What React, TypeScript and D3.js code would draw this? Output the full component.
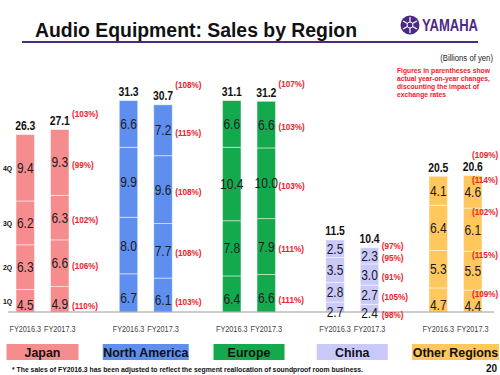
import React from "react";
import * as d3 from "d3";

// quarterly sales, billions of yen, [FY2016.3, FY2017.3] x [1Q..4Q]
const regions = ["Japan", "North America", "Europe", "China", "Other Regions"];
const years = ["FY2016.3", "FY2017.3"];
const quarters = ["1Q", "2Q", "3Q", "4Q"];

const japanSales = [[4.5, 6.3, 6.2, 9.4], [4.9, 6.6, 6.3, 9.3]];
const northAmericaSales = [[6.7, 8.0, 9.9, 6.6], [6.1, 7.7, 9.6, 7.2]];
const europeSales = [[6.4, 7.8, 10.4, 6.6], [6.6, 7.9, 10.0, 6.6]];
const chinaSales = [[2.7, 2.8, 3.5, 2.5], [2.4, 2.7, 3.0, 2.3]];
const otherSales = [[4.7, 5.3, 6.4, 4.1], [4.4, 5.5, 6.1, 4.6]];

const japanTotals = [26.3, 27.1];
const northAmericaTotals = [31.3, 30.7];
const europeTotals = [31.1, 31.2];
const chinaTotals = [11.5, 10.4];
const otherTotals = [20.5, 20.6];

// year-on-year change (local currency): 1Q, 2Q, 3Q, 4Q, total
const japanYoY = ["110%", "106%", "102%", "99%", "103%"];
const northAmericaYoY = ["103%", "108%", "108%", "115%", "108%"];
const europeYoY = ["111%", "111%", "103%", "103%", "107%"];
const chinaYoY = ["98%", "105%", "91%", "95%", "97%"];
const otherYoY = ["109%", "115%", "102%", "114%", "109%"];

const colors = ["#F58D8F", "#5E8FEE", "#13A94C", "#C9C9FA", "#FFC75C"];

const sales = [japanSales, northAmericaSales, europeSales, chinaSales, otherSales];
const totals = [japanTotals, northAmericaTotals, europeTotals, chinaTotals, otherTotals];
const yoy = [japanYoY, northAmericaYoY, europeYoY, chinaYoY, otherYoY];

const FONT = "'Liberation Sans', Arial, sans-serif";
const PURPLE = "#4B2A84";
const RED = "#F0202A";

const T = ({ x, y, sx = 0.86, children, ...rest }: any) => (
  <text transform={`translate(${x},${y}) scale(${sx},1)`} fontFamily={FONT} {...rest}>
    {children}
  </text>
);

export default function App() {
  const baseY = 312;
  const x = d3.scalePoint().domain(regions).range([42.5, 455.5]);
  const inner = d3.scaleBand().domain(years).range([-26.5, 26.5]).paddingInner(0.464);
  // the axis sits a little above zero in the original slide
  const yRaw = d3.scaleLinear().domain([1.3, 35]).range([baseY, 73.7]);
  const y = yRaw.copy().clamp(true);
  const fmt = d3.format(".1f");
  const bw = inner.bandwidth();

  const bars: any[] = [];
  const labels: any[] = [];

  regions.forEach((r, ri) => {
    years.forEach((yr, yi) => {
      const vals = sales[ri][yi];
      const cum = Array.from(d3.cumsum(vals));
      const x0 = (x(r) as number) + (inner(yr) as number);
      vals.forEach((v, qi) => {
        const top = y(cum[qi]);
        const bot = y(cum[qi] - v);
        const mid = (top + yRaw(cum[qi] - v)) / 2;
        bars.push(
          <rect key={`b${ri}${yi}${qi}`} x={x0} y={top} width={bw} height={bot - top}
            fill={colors[ri]} stroke="#fff" strokeOpacity={0.6} strokeWidth={0.8} />
        );
        labels.push(
          <T key={`v${ri}${yi}${qi}`} x={x0 + bw / 2} y={mid + 5} textAnchor="middle"
            fontSize={14} fill="#1b1b24">{fmt(v)}</T>
        );
        if (yi === 1) {
          const other = ri === 4;
          labels.push(
            <T key={`p${ri}${qi}`} x={other ? x0 + bw - 10 : x0 + bw + 3}
              y={other ? top + 7 : mid + 5.5} fontSize={9.5} fontWeight="bold" fill={RED}>
              ({yoy[ri][qi]})
            </T>
          );
        }
        if (ri === 0 && yi === 0) {
          labels.push(
            <T key={`q${qi}`} x={7.5} y={(top + bot) / 2 + 3} textAnchor="middle" fontSize={8}
              fontWeight="bold" fill="#111">{quarters[qi]}</T>
          );
        }
      });
      const stackTop = y(cum[cum.length - 1]);
      labels.push(
        <T key={`t${ri}${yi}`} x={x0 + bw / 2} y={stackTop - 4.5} sx={0.8} textAnchor="middle"
          fontSize={13} fontWeight="bold" fill="#111">{fmt(totals[ri][yi])}</T>
      );
      if (yi === 1) {
        const dy = [-8, -12, -10, 6, -13][ri];
        labels.push(
          <T key={`pt${ri}`} x={ri === 4 ? x0 + bw - 10 : x0 + bw + 3} y={stackTop - 4.5 + dy}
            fontSize={9.5} fontWeight="bold" fill={RED}>({yoy[ri][4]})</T>
        );
      }
      labels.push(
        <T key={`fy${ri}${yi}`} x={x0 + bw / 2} y={332} textAnchor="middle" fontSize={8.5}
          fill="#444">{yr}</T>
      );
    });
  });

  const legendW = [72, 86, 71, 71, 87];
  const noteLines = [
    "Figures in parentheses show",
    "actual year-on-year changes,",
    "discounting  the impact of",
    "exchange rates",
  ];

  return (
    <svg width={500} height={375} style={{ position: "absolute", left: 0, top: 0, background: "#fff" }}>
      <text x={35} y={37} fontFamily={FONT} fontSize={19.5} fontWeight="bold" fill="#111"
        textLength={322} lengthAdjust="spacingAndGlyphs">Audio Equipment: Sales by Region</text>
      <line x1={22} x2={478} y1={42} y2={42} stroke={PURPLE} strokeWidth={2} />

      <g transform="translate(410,25)">
        <circle r={9.5} fill={PURPLE} />
        {[0, 60, 120].map((a) => (
          <g key={a} transform={`rotate(${a})`}>
            <line x1={0} y1={-8} x2={0} y2={8} stroke="#fff" strokeWidth={1.2} />
          </g>
        ))}
        <circle r={3} fill={PURPLE} stroke="#fff" strokeWidth={1} />
      </g>
      <text x={422} y={31} fontFamily={FONT} fontSize={16} fontWeight="bold" fill={PURPLE}
        textLength={56} lengthAdjust="spacingAndGlyphs">YAMAHA</text>

      <T x={493} y={61} textAnchor="end" fontSize={9} fill="#222">(Billions  of  yen)</T>
      {noteLines.map((l, i) => (
        <T key={i} x={397} y={72.5 + i * 8} sx={0.9} fontSize={7.5} fontWeight="bold" fill={RED}>{l}</T>
      ))}

      {bars}
      <line x1={8} x2={494} y1={baseY} y2={baseY} stroke="#9a9a9a" strokeWidth={1} />
      {labels}

      {regions.map((r, ri) => {
        const cx = x(r) as number;
        const w = legendW[ri];
        return (
          <g key={r}>
            <rect x={cx - w / 2} y={344} width={w} height={16} fill={colors[ri]} />
            <T x={cx} y={357} sx={0.92} textAnchor="middle" fontSize={13.5} fontWeight="bold" fill="#111">{r}</T>
          </g>
        );
      })}

      <text x={12} y={371.5} fontFamily={FONT} fontSize={6.8} fontWeight="bold" fill="#111"
        textLength={351} lengthAdjust="spacingAndGlyphs">
        * The sales of FY2016.3  has been adjusted to reflect the segment reallocation of soundproof  room  business.
      </text>
      <text x={497} y={372} textAnchor="end" fontFamily={FONT} fontSize={10} fontWeight="bold" fill="#111">20</text>
    </svg>
  );
}
